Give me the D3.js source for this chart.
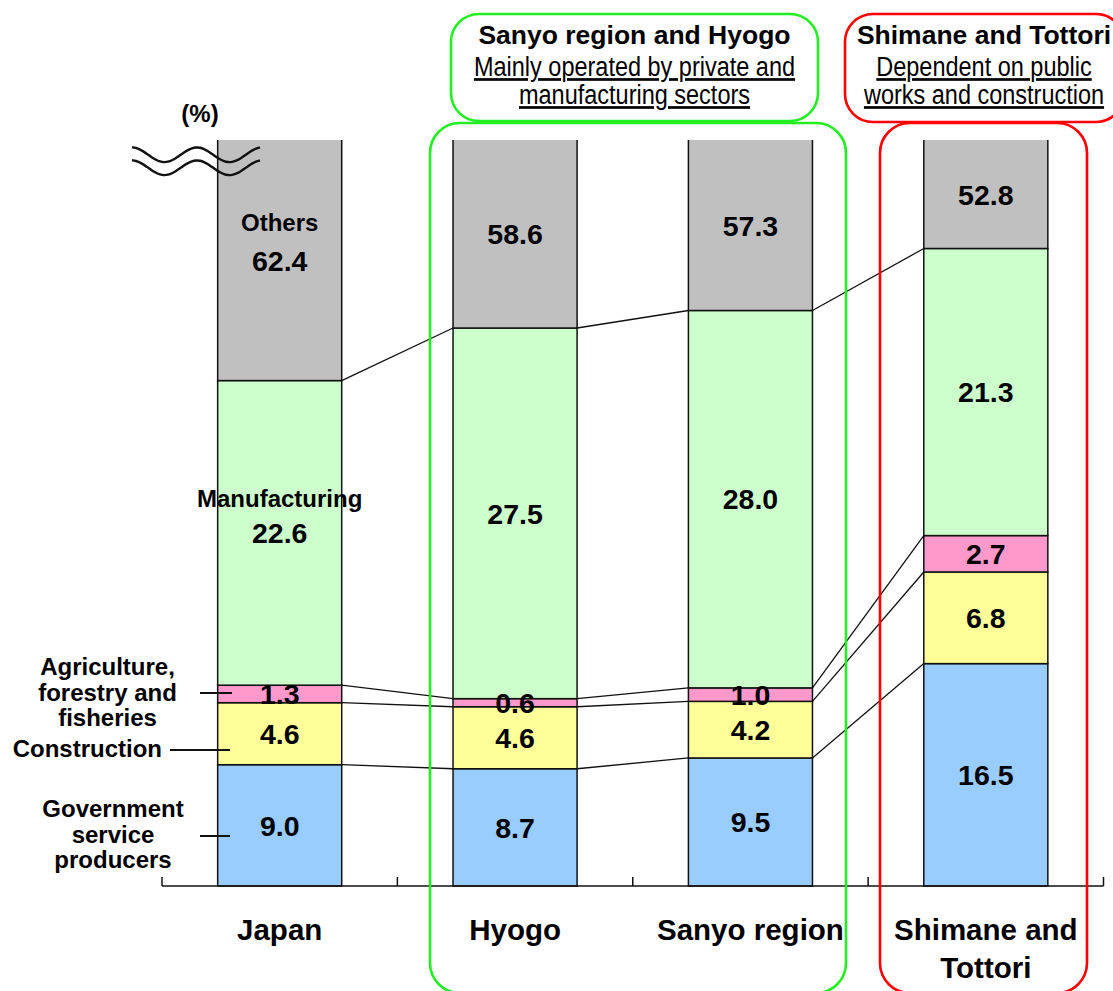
<!DOCTYPE html>
<html>
<head>
<meta charset="utf-8">
<script src="https://cdn.jsdelivr.net/npm/d3@7"></script>
<style>
  body { margin: 0; background: #fff; }
  svg { display: block; font-family: "Liberation Sans", Arial, sans-serif; }
</style>
</head>
<body>
<div id="chart"></div>
<script>
// data (%)
const categories = ['Japan', 'Hyogo', 'Sanyo region', 'Shimane and Tottori'];
const categoryLines = [['Japan'], ['Hyogo'], ['Sanyo region'], ['Shimane and', 'Tottori']];
const sectors = ['government', 'construction', 'agriculture', 'manufacturing', 'others'];
const government = [9.0, 8.7, 9.5, 16.5];
const construction = [4.6, 4.6, 4.2, 6.8];
const agriculture = [1.3, 0.6, 1.0, 2.7];
const manufacturing = [22.6, 27.5, 28.0, 21.3];
const others = [62.4, 58.6, 57.3, 52.8];

const colors = {
    government: '#99ccff',
    construction: '#ffff99',
    agriculture: '#ff99cc',
    manufacturing: '#ccffcc',
    others: '#c0c0c0'
};

const width = 1113;
const height = 991;
const yTop = 140;     // axis is broken here
const base = 886;

const rows = categories.map((c, i) => ({
    category: c,
    government: government[i],
    construction: construction[i],
    agriculture: agriculture[i],
    manufacturing: manufacturing[i],
    others: others[i]
}));

const series = d3.stack().keys(sectors)(rows);

const x = d3.scaleBand()
    .domain(categories)
    .range([162, 1103.5])
    .paddingInner(0.473)
    .paddingOuter(0.2365);

const y = d3.scaleLinear()
    .domain([0, 55.35])
    .range([base, yTop]);

const svg = d3.select('#chart')
    .append('svg')
    .attr('width', width)
    .attr('height', height);

svg.append('clipPath')
    .attr('id', 'clip')
    .append('rect')
    .attr('x', 0)
    .attr('y', yTop)
    .attr('width', width)
    .attr('height', base - yTop + 5);

// bars
const bars = svg.append('g').attr('clip-path', 'url(#clip)');
series.forEach(s => {
    bars.selectAll(null)
        .data(s)
        .enter()
        .append('rect')
        .attr('x', d => x(d.data.category))
        .attr('y', d => y(d[1]))
        .attr('width', x.bandwidth())
        .attr('height', d => y(d[0]) - y(d[1]))
        .attr('fill', colors[s.key])
        .attr('stroke', '#111')
        .attr('stroke-width', 1.5);
});

// connector lines between neighbouring bars
const links = svg.append('g');
series.slice(0, 4).forEach(s => {
    for (let i = 0; i < categories.length - 1; i++) {
        links.append('line')
            .attr('x1', x(categories[i]) + x.bandwidth())
            .attr('y1', y(s[i][1]))
            .attr('x2', x(categories[i + 1]))
            .attr('y2', y(s[i + 1][1]))
            .attr('stroke', '#111')
            .attr('stroke-width', 1.3);
    }
});

// x axis
const axis = svg.append('g');
axis.append('line')
    .attr('x1', 162).attr('x2', 1103.5)
    .attr('y1', base).attr('y2', base)
    .attr('stroke', '#111').attr('stroke-width', 1.5);
d3.range(categories.length + 1).forEach(i => {
    const tx = 162 + i * x.step();
    axis.append('line')
        .attr('x1', tx).attr('x2', tx)
        .attr('y1', base).attr('y2', base - 9)
        .attr('stroke', '#111').attr('stroke-width', 1.5);
});

categories.forEach((c, i) => {
    const t = axis.append('text')
        .attr('x', x(c) + x.bandwidth() / 2)
        .attr('y', 940)
        .attr('text-anchor', 'middle')
        .attr('font-size', 29.5)
        .attr('font-weight', 'bold');
    categoryLines[i].forEach((line, j) => {
        t.append('tspan')
            .attr('x', x(c) + x.bandwidth() / 2)
            .attr('dy', j === 0 ? 0 : 38)
            .text(line);
    });
});

// value labels
const labels = svg.append('g')
    .attr('text-anchor', 'middle')
    .attr('font-weight', 'bold');
series.forEach(s => {
    s.forEach(d => {
        const y0 = y(d[0]);
        const y1 = Math.max(y(d[1]), yTop);
        const cy = (y0 + y1) / 2;
        labels.append('text')
            .attr('x', x(d.data.category) + x.bandwidth() / 2)
            .attr('y', cy)
            .attr('dy', '0.36em')
            .attr('font-size', 28.5)
            .text(d3.format('.1f')(d.data[s.key]));
    });
});

// sector names written inside the Japan bar
const japanNames = [['others', 'Others', 38], ['manufacturing', 'Manufacturing', 35]];
japanNames.forEach(([key, name, up]) => {
    const d = series.find(s => s.key === key)[0];
    const cy = (y(d[0]) + Math.max(y(d[1]), yTop)) / 2;
    labels.append('text')
        .attr('x', x(categories[0]) + x.bandwidth() / 2)
        .attr('y', cy)
        .attr('dy', '0.36em')
        .attr('transform', `translate(0,${-up})`)
        .attr('font-size', 24)
        .text(name);
});

// sector names on the left
const side = svg.append('g')
    .attr('font-size', 24)
    .attr('font-weight', 'bold')
    .attr('text-anchor', 'middle');

function multiLine(lines, cx, y0) {
    lines.forEach((l, j) => {
        side.append('text').attr('x', cx).attr('y', y0 + j * 25.5).text(l);
    });
}
multiLine(['Agriculture,', 'forestry and', 'fisheries'], 107.5, 675);
multiLine(['Government', 'service', 'producers'], 113, 817);
side.append('text').attr('x', 162).attr('y', 757).attr('text-anchor', 'end').text('Construction');

[[200, 232, 693], [170, 230, 750], [200, 230, 836]].forEach(([a, b, ly]) => {
    side.append('line')
        .attr('x1', a).attr('x2', b)
        .attr('y1', ly).attr('y2', ly)
        .attr('stroke', '#111').attr('stroke-width', 2);
});

// unit and axis break
svg.append('text')
    .attr('x', 200).attr('y', 122)
    .attr('text-anchor', 'middle')
    .attr('font-size', 24)
    .attr('font-weight', 'bold')
    .text('(%)');

const wave = d3.line().curve(d3.curveBasis);
[0, 13].forEach(off => {
    const pts = d3.range(132, 263, 4).map(px =>
        [px, 154.8 + off - 7.5 * Math.cos(2 * Math.PI * (px - 132) / 65)]);
    svg.append('path')
        .attr('d', wave(pts))
        .attr('fill', 'none')
        .attr('stroke', '#111')
        .attr('stroke-width', 2.4);
});

// group frames
const frames = svg.append('g').attr('fill', 'none').attr('stroke-width', 2.6);
frames.append('rect').attr('x', 430).attr('y', 123).attr('width', 416).attr('height', 870)
    .attr('rx', 30).attr('stroke', '#22ee22');
frames.append('rect').attr('x', 451).attr('y', 14).attr('width', 367).attr('height', 107)
    .attr('rx', 28).attr('stroke', '#22ee22');
frames.append('rect').attr('x', 880).attr('y', 123).attr('width', 207).attr('height', 870)
    .attr('rx', 30).attr('stroke', '#ff0000');
frames.append('rect').attr('x', 845).attr('y', 14).attr('width', 279).attr('height', 108)
    .attr('rx', 28).attr('stroke', '#ff0000');

const notes = [
    { cx: 634.5, title: 'Sanyo region and Hyogo', sub: ['Mainly operated by private and', 'manufacturing sectors'] },
    { cx: 984, title: 'Shimane and Tottori', sub: ['Dependent on public', 'works and construction'] }
];
notes.forEach(n => {
    svg.append('text')
        .attr('x', n.cx).attr('y', 44)
        .attr('text-anchor', 'middle')
        .attr('font-size', 26.5)
        .attr('font-weight', 'bold')
        .text(n.title);
    n.sub.forEach((s, j) => {
        // condensed look: squeeze the regular face horizontally
        svg.append('text')
            .attr('transform', `translate(${n.cx},${76 + j * 28}) scale(0.87,1)`)
            .attr('text-anchor', 'middle')
            .attr('font-size', 27)
            .style('text-decoration', 'underline')
            .text(s);
    });
});
</script>
</body>
</html>
